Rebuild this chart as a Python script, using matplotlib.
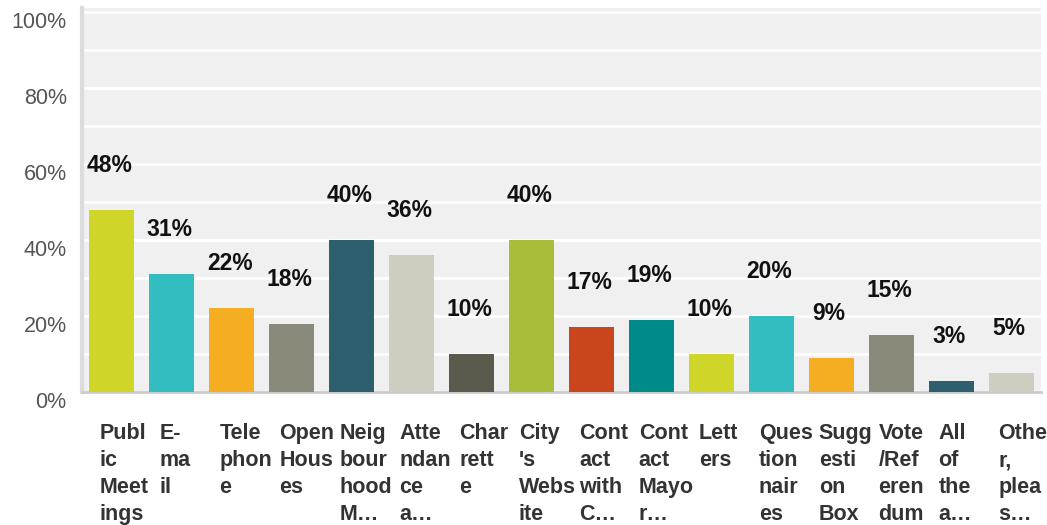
import matplotlib.pyplot as plt
import matplotlib.transforms as mtransforms

plt.rcParams['font.family'] = ['Liberation Sans', 'DejaVu Sans']

labels = ["Publ\nic\nMeet\nings", "E-\nma\nil", "Tele\nphon\ne", "Open\nHous\nes",
          "Neig\nbour\nhood\nM\u2026", "Atte\nndan\nce\na\u2026", "Char\nrett\ne",
          "City\n's\nWebs\nite", "Cont\nact\nwith\nC\u2026", "Cont\nact\nMayo\nr\u2026",
          "Lett\ners", "Ques\ntion\nnair\nes", "Sugg\nesti\non\nBox",
          "Vote\n/Ref\neren\ndum", "All\nof\nthe\na\u2026", "Othe\nr,\nplea\ns\u2026"]
values = [48, 31, 22, 18, 40, 36, 10, 40, 17, 19, 10, 20, 9, 15, 3, 5]
palette = ['#d0d52a', '#33bdc0', '#f5ae21', '#8a8a7a', '#2e5f6e',
           '#cfcdbf', '#5c5a4c', '#a9bd3b', '#c9461d', '#008a8a']
colors = [palette[i % len(palette)] for i in range(len(values))]

fig = plt.figure(figsize=(10.47, 5.25), dpi=100)
ax = fig.add_axes([82 / 1047, 133 / 525, (1041 - 82) / 1047, (392 - 8) / 525])
ax.set_facecolor('#f0f0f0')

x = list(range(len(values)))
ax.bar(x, values, width=0.75, color=colors, zorder=3)

for i, v in enumerate(values):
    ax.annotate(f"{v}%", (i, v), xytext=(-2, 33), textcoords='offset pixels',
                ha='center', va='bottom', fontsize=16.5, fontweight='bold',
                color='#111111', zorder=4)

ax.set_xlim(-0.5, len(values) - 0.5)
ax.set_ylim(0, 101)

# grid every 10%, labels every 20%
ax.set_yticks(range(0, 101, 10), minor=True)
ax.set_yticks(range(0, 101, 20))
ax.set_yticklabels([f"{t}%" for t in range(0, 101, 20)], fontsize=15.5, color='#555555')
ax.grid(axis='y', which='both', color='white', linewidth=2, zorder=1)
ax.tick_params(axis='y', which='both', length=0, pad=11)
off = mtransforms.ScaledTranslation(0, -0.08, fig.dpi_scale_trans)
for lab in ax.get_yticklabels():
    lab.set_transform(lab.get_transform() + off)

ax.set_xticks([])
for i, lab in enumerate(labels):
    ax.text(i - 0.21, -0.082, lab, transform=ax.get_xaxis_transform(),
            ha='left', va='top', fontsize=15.5, fontweight='bold',
            color='#333333', linespacing=1.37, clip_on=False)

for s in ['top', 'right']:
    ax.spines[s].set_visible(False)
ax.spines['left'].set_color('#dcdcdc')
ax.spines['left'].set_linewidth(3)
ax.spines['bottom'].set_color('#cccccc')
ax.spines['bottom'].set_linewidth(2)

fig.savefig('out.png', dpi=100)
